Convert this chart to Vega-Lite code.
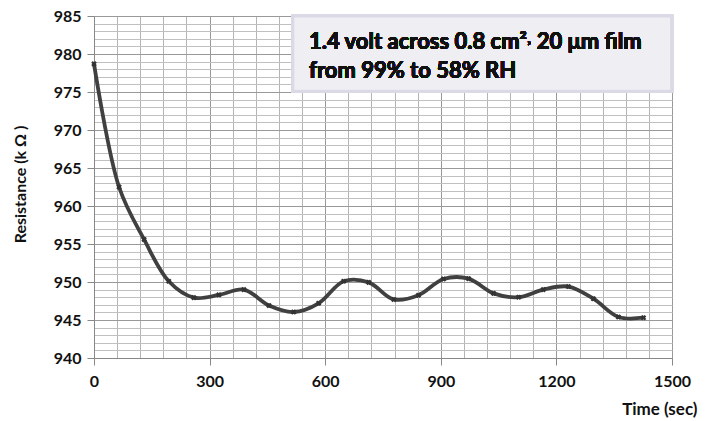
{
  "$schema": "https://vega.github.io/schema/vega-lite/v6.json",
  "width": 578,
  "height": 342,
  "autosize": "none",
  "padding": {"left": 94, "top": 16, "right": 37, "bottom": 63},
  "background": "white",
  "config": {"view": {"stroke": null}, "font": "Lato"},
  "data": {
    "values": [
      {"time": 0, "resistance": 978.7},
      {"time": 65, "resistance": 962.5},
      {"time": 130, "resistance": 955.6},
      {"time": 194, "resistance": 950.1},
      {"time": 259, "resistance": 947.95},
      {"time": 324, "resistance": 948.3},
      {"time": 389, "resistance": 949.0},
      {"time": 454, "resistance": 946.9},
      {"time": 518, "resistance": 946.05},
      {"time": 583, "resistance": 947.2},
      {"time": 648, "resistance": 950.1},
      {"time": 713, "resistance": 949.95},
      {"time": 778, "resistance": 947.7},
      {"time": 842, "resistance": 948.25},
      {"time": 907, "resistance": 950.4},
      {"time": 972, "resistance": 950.45},
      {"time": 1037, "resistance": 948.5},
      {"time": 1102, "resistance": 948.0},
      {"time": 1166, "resistance": 949.0},
      {"time": 1231, "resistance": 949.4},
      {"time": 1296, "resistance": 947.8},
      {"time": 1361, "resistance": 945.4},
      {"time": 1426, "resistance": 945.3}
    ]
  },
  "encoding": {
    "x": {
      "field": "time",
      "type": "quantitative",
      "scale": {"domain": [0, 1500], "nice": false, "zero": false},
      "axis": {
        "values": [0, 60, 120, 180, 240, 300, 360, 420, 480, 540, 600, 660, 720, 780, 840, 900, 960, 1020, 1080, 1140, 1200, 1260, 1320, 1380, 1440, 1500],
        "labelExpr": "datum.value % 300 == 0 ? datum.label : ''",
        "format": "d",
        "labelFontSize": 16,
        "labelFontWeight": "bold",
        "labelColor": "#111111",
        "labelPadding": 8,
        "labelFlush": false,
        "tickSize": 7,
        "tickColor": "#888888",
        "tickOpacity": {"condition": {"test": "datum.value % 300 == 0", "value": 1}, "value": 0},
        "domainColor": "#888888",
        "gridColor": {"condition": {"test": "datum.value % 300 == 0", "value": "#999999"}, "value": "#b4b4b4"},
        "gridOpacity": 1,
        "title": "Time (sec)",
        "titleFontSize": 17,
        "titleFontWeight": "bold",
        "titleColor": "#111111",
        "titleAlign": "right",
        "titleAnchor": "end",
        "titleX": 603,
        "titleY": 56,
        "titleBaseline": "alphabetic"
      }
    },
    "y": {
      "field": "resistance",
      "type": "quantitative",
      "scale": {"domain": [940, 985], "nice": false, "zero": false},
      "axis": {
        "values": [940, 941, 942, 943, 944, 945, 946, 947, 948, 949, 950, 951, 952, 953, 954, 955, 956, 957, 958, 959, 960, 961, 962, 963, 964, 965, 966, 967, 968, 969, 970, 971, 972, 973, 974, 975, 976, 977, 978, 979, 980, 981, 982, 983, 984, 985],
        "labelExpr": "datum.value % 5 == 0 ? datum.label : ''",
        "format": "d",
        "labelFontSize": 16,
        "labelFontWeight": "bold",
        "labelColor": "#111111",
        "labelPadding": 6,
        "labelFlush": false,
        "tickSize": 7,
        "tickColor": "#888888",
        "tickOpacity": {"condition": {"test": "datum.value % 5 == 0", "value": 1}, "value": 0},
        "domainColor": "#888888",
        "gridColor": {"condition": {"test": "datum.value % 5 == 0", "value": "#999999"}, "value": "#c0c0c0"},
        "gridOpacity": 1,
        "title": "Resistance (k Ω )",
        "titleFontSize": 16,
        "titleFontWeight": "bold",
        "titleColor": "#111111",
        "titleAngle": 270,
        "titleX": -74,
        "titleY": 168,
        "titleAlign": "center",
        "titleBaseline": "middle"
      }
    }
  },
  "layer": [
    {
      "mark": {"type": "line", "interpolate": "catmull-rom", "color": "#404040", "strokeWidth": 3.8}
    },
    {
      "mark": {"type": "point", "shape": "cross", "angle": 45, "filled": true, "color": "#333333", "size": 32, "opacity": 1}
    },
    {
      "mark": {"type": "rect", "fill": "#efeff3", "stroke": "#dcd9e6", "strokeWidth": 3},
      "encoding": {
        "x": {"datum": 516},
        "x2": {"datum": 1499},
        "y": {"datum": 985},
        "y2": {"datum": 975.1}
      }
    },
    {
      "mark": {"type": "text", "text": "1.4 volt across 0.8 cm²˒ 20 μm film", "align": "left", "baseline": "alphabetic", "fontSize": 22, "fontWeight": "bold", "color": "#111111"},
      "encoding": {
        "x": {"datum": 558},
        "y": {"datum": 980.7}
      }
    },
    {
      "mark": {"type": "text", "text": "from 99% to 58% RH", "align": "left", "baseline": "alphabetic", "fontSize": 22, "fontWeight": "bold", "color": "#111111"},
      "encoding": {
        "x": {"datum": 558},
        "y": {"datum": 976.9}
      }
    }
  ]
}
